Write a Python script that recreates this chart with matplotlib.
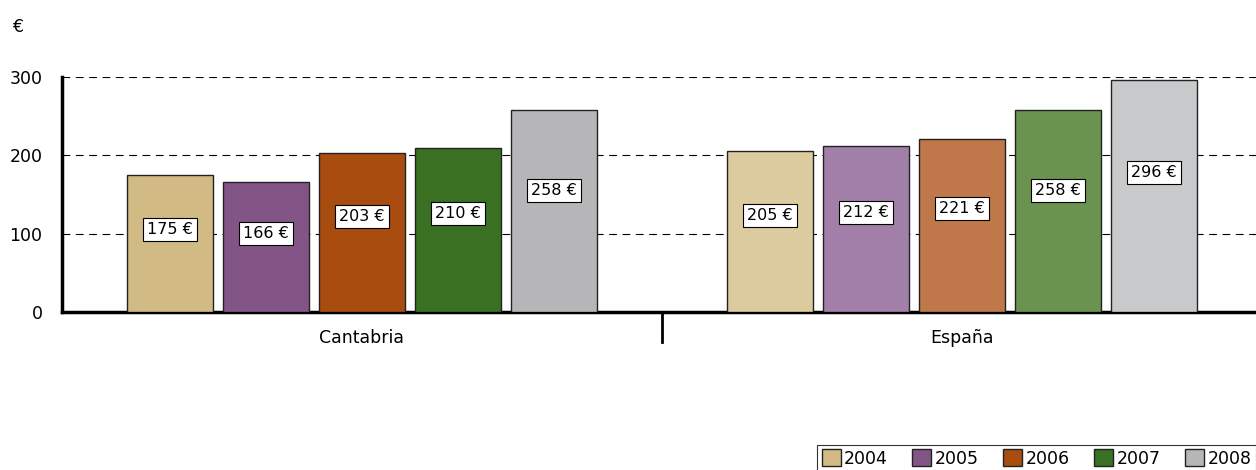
import numpy as np
import matplotlib
matplotlib.use('Agg')
import matplotlib.pyplot as plt
from matplotlib.patches import Patch
import matplotlib.transforms as mtransforms

# ── Data ─────────────────────────────────────────────────────────────────────
regions = ['Cantabria', 'España']
years = ['2004', '2005', '2006', '2007', '2008']
cantabria = [175, 166, 203, 210, 258]
espana = [205, 212, 221, 258, 296]

colors_cant = ['#D2BA84', '#835587', '#A84C10', '#3A7022', '#B6B6B8']
colors_esp = ['#DCCB9F', '#A27FA8', '#C0774A', '#6A9350', '#C8C9CB']

plt.rcParams['font.family'] = ['DejaVu Sans']

fig = plt.figure(figsize=(12.56, 4.70), dpi=100)
ax = fig.add_axes([62 / 1256, 158 / 470, 1200 / 1256, 235 / 470])

step = 0.16
width = 0.143
x = np.arange(len(regions))
for ri, (vals, cols) in enumerate([(cantabria, colors_cant), (espana, colors_esp)]):
    for i, (v, c) in enumerate(zip(vals, cols)):
        xi = x[ri] + (i - 2) * step
        ax.bar(xi, v, width=width, color=c, edgecolor='#222222', linewidth=1.0, zorder=3)
        ax.text(xi, v * 0.6, f'{v} €', ha='center', va='center', fontsize=11.5,
                zorder=4,
                bbox=dict(boxstyle='square,pad=0.25', fc='white', ec='black', lw=0.8))

ax.set_xlim(-0.5, 1.5)
ax.set_ylim(0, 300)
ax.set_yticks([0, 100, 200, 300])
ax.set_yticklabels(['0', '100', '200', '300'], fontsize=12.5)
ax.tick_params(axis='y', length=0, pad=14)
ax.set_xticks(x)
ax.set_xticklabels(regions, fontsize=12.5)
ax.tick_params(axis='x', length=0, pad=12)

for yv in [100, 200, 300]:
    ax.axhline(yv, color='black', lw=0.8, ls=(0, (7, 5)), zorder=1)

for s in ['top', 'right']:
    ax.spines[s].set_visible(False)
ax.spines['left'].set_linewidth(2.5)
ax.spines['bottom'].set_linewidth(2.5)

# divider tick between the two groups
trans = mtransforms.blended_transform_factory(ax.transData, ax.transAxes)
ax.plot([0.5, 0.5], [0, -30 / 235], color='black', lw=2, transform=trans,
        clip_on=False, zorder=5)

fig.text(12 / 1256, 1 - 27 / 470, '€', fontsize=12.5, va='center', ha='left')

handles = [Patch(facecolor=c, edgecolor='#222222', label=y)
           for c, y in zip(colors_cant, years)]
leg = fig.legend(handles=handles, loc='lower right', bbox_to_anchor=(1.0, -0.004),
                 ncol=5, fontsize=12.5, frameon=True, fancybox=False,
                 handlelength=1.1, handleheight=1.1, handletextpad=0.2,
                 columnspacing=1.4, borderpad=0.25, borderaxespad=0)
leg.get_frame().set_edgecolor('black')
leg.get_frame().set_linewidth(0.8)

plt.savefig('out.png', dpi=100)
plt.close()
